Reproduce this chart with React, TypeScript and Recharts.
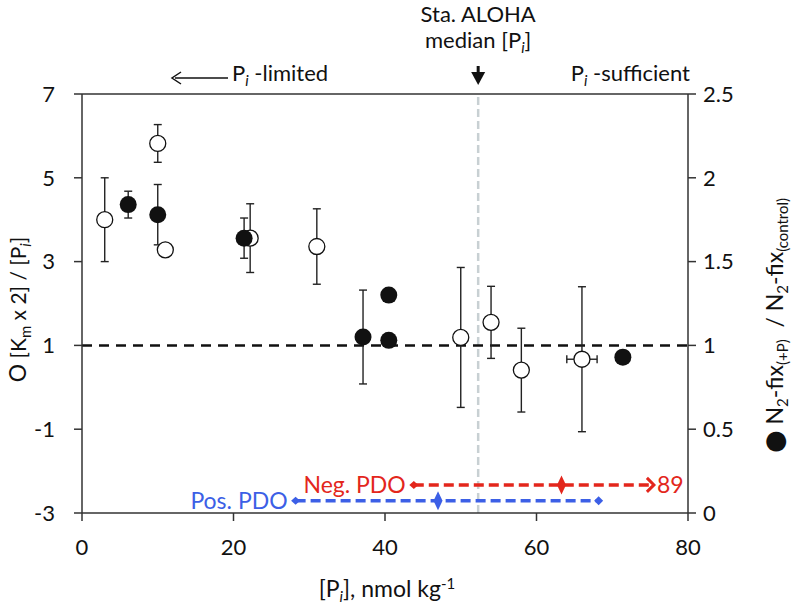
import React from 'react';
import { ScatterChart, Scatter, XAxis, YAxis, ErrorBar, ReferenceLine, ReferenceDot } from 'recharts';

// open circles: [Km x 2] / [Pi]  (left axis)
const openPi = [3, 10, 11, 22.2, 31, 50, 54, 58, 66];
const openRatio = [4.0, 5.82, 3.28, 3.56, 3.36, 1.19, 1.55, 0.41, 0.67];
const openRatioErr = [1.0, 0.45, 0, 0.82, 0.9, 1.67, 0.86, 1.0, 1.73];
const openPiErr = [0, 0, 0, 0, 0, 0, 0, 0, 2];

// filled circles: N2-fix(+P) / N2-fix(control)  (right axis)
const filledPi = [6.1, 10, 21.4, 37.1, 40.5, 40.5, 71.4];
const filledFix = [1.84, 1.78, 1.64, 1.05, 1.3, 1.03, 0.93];
const filledFixErr = [0.08, 0.18, 0.12, 0.28, 0, 0, 0];

const xTicks = [0, 20, 40, 60, 80];
const leftTicks = [-3, -1, 1, 3, 5, 7];
const rightTicks = [0, 0.5, 1, 1.5, 2, 2.5];

const alohaMedian = 52.3;
const threshold = 1;
// low, median, high of [Pi] during each PDO phase
const negPdo = [43.8, 63.3, 75.5];
const posPdo = [28.2, 47.0, 68.2];
const negPdoTop = '89';

const NEG_Y = -2.33;
const POS_Y = -2.71;
const RED = '#e3261c';
const BLUE = '#3c5fe6';
const FONT = 'Lato, "Open Sans", sans-serif';
const AXIS = '#333';

const openData = openPi.map((x, i) => ({ x, y: openRatio[i], ey: openRatioErr[i], ex: openPiErr[i] }));
const filledData = filledPi.map((x, i) => ({ x, y: filledFix[i], ey: filledFixErr[i] }));

const OpenDot = (p: any) => <circle cx={p.cx} cy={p.cy} r={8} fill="#fff" stroke="#111" strokeWidth={1.3} />;
const FilledDot = (p: any) => <circle cx={p.cx} cy={p.cy} r={8.5} fill="#111" />;

const diamond = (color: string, w: number, h: number) => (p: any) => (
  <path d={`M${p.cx - w / 2},${p.cy} L${p.cx},${p.cy - h / 2} L${p.cx + w / 2},${p.cy} L${p.cx},${p.cy + h / 2} Z`} fill={color} />
);

const EndLabel = (color: string, w: number, h: number, text: string, side: 'left' | 'right', chevron = false) => (p: any) => (
  <g>
    {chevron ? (
      <path d={`M${p.cx - 7},${p.cy - 7} L${p.cx},${p.cy} L${p.cx - 7},${p.cy + 7}`} fill="none" stroke={color} strokeWidth={3} />
    ) : (
      <path d={`M${p.cx - w / 2},${p.cy} L${p.cx},${p.cy - h / 2} L${p.cx + w / 2},${p.cy} L${p.cx},${p.cy + h / 2} Z`} fill={color} />
    )}
    <text
      x={side === 'left' ? p.cx - 8 : p.cx + 3}
      y={p.cy + 8}
      textAnchor={side === 'left' ? 'end' : 'start'}
      fill={color}
      fontSize={23}
      fontFamily={FONT}
    >
      {text}
    </text>
  </g>
);

const TopNotes = (props: any) => {
  const vb = props.viewBox || {};
  const x = vb.x;
  const top = Math.min(vb.y, vb.y + (vb.height || 0));
  return (
    <g fontFamily={FONT} fontSize={22} fill="#111">
      <text x={x} y={top - 72} textAnchor="middle">Sta. ALOHA</text>
      <text x={x} y={top - 46} textAnchor="middle">
        median [P<tspan fontSize={15} fontStyle="italic" dy={5}>i</tspan><tspan dy={-5}>]</tspan>
      </text>
      <rect x={x - 1.5} y={top - 28} width={3} height={6} fill="#111" />
      <path d={`M${x - 7},${top - 22} L${x + 7},${top - 22} L${x},${top - 9} Z`} fill="#111" />
      <line x1={175} y1={top - 16} x2={228} y2={top - 16} stroke="#111" strokeWidth={1.5} />
      <path d={`M${181},${top - 22} L${172},${top - 16} L${181},${top - 10}`} fill="none" stroke="#111" strokeWidth={1.5} />
      <text x={232} y={top - 13}>
        P<tspan fontSize={15} fontStyle="italic" dy={5}>i</tspan><tspan dy={-5}> -limited</tspan>
      </text>
      <text x={690} y={top - 13} textAnchor="end">
        P<tspan fontSize={15} fontStyle="italic" dy={5}>i</tspan><tspan dy={-5}> -sufficient</tspan>
      </text>
    </g>
  );
};

const LeftTitle = (props: any) => {
  const vb = props.viewBox || {};
  const cx = vb.x + 26;
  const cy = vb.y + vb.height / 2 + 6;
  return (
    <text x={cx} y={cy} transform={`rotate(-90 ${cx} ${cy})`} textAnchor="middle" fontFamily={FONT} fontSize={21} fill="#111">
      <tspan fontSize={23}>O</tspan> [K<tspan fontSize={15} dy={5}>m</tspan>
      <tspan dy={-5}> x 2] / [P</tspan>
      <tspan fontSize={15} fontStyle="italic" dy={5}>i</tspan>
      <tspan dy={-5}>]</tspan>
    </text>
  );
};

const RightTitle = (props: any) => {
  const vb = props.viewBox || {};
  const cx = vb.x + 95;
  const cy = vb.y + vb.height / 2 + 22;
  return (
    <text x={cx} y={cy} transform={`rotate(-90 ${cx} ${cy})`} textAnchor="middle" fontFamily={FONT} fontSize={23} fill="#111">
      <tspan fontFamily="DejaVu Sans" fontSize={26}>●</tspan> N<tspan fontSize={15} dy={5}>2</tspan>
      <tspan dy={-5}>-fix</tspan>
      <tspan fontSize={15} dy={5}>(+P)</tspan>
      <tspan dy={-5}>{'\u00a0\u00a0/ N'}</tspan>
      <tspan fontSize={15} dy={5}>2</tspan>
      <tspan dy={-5}>-fix</tspan>
      <tspan fontSize={15} dy={5}>(control)</tspan>
    </text>
  );
};

const BottomTitle = (props: any) => {
  const vb = props.viewBox || {};
  const cx = vb.x + vb.width / 2 + 2;
  return (
    <text x={cx} y={vb.y + 84} textAnchor="middle" fontFamily={FONT} fontSize={23} fill="#111">
      [P<tspan fontSize={15} fontStyle="italic" dy={5}>i</tspan>
      <tspan dy={-5}>], nmol kg</tspan>
      <tspan fontSize={15} dy={-8}>-1</tspan>
    </text>
  );
};

const tickStyle = { fill: '#111', fontSize: 22, fontFamily: FONT };

export default function App() {
  return (
    <div style={{ position: 'absolute', left: 0, top: 0, width: 796, height: 607, background: '#fff' }}>
      <ScatterChart width={796} height={607} margin={{ top: 94, right: 0, bottom: 0, left: 0 }}>
        <XAxis
          type="number"
          dataKey="x"
          domain={[0, 80]}
          ticks={xTicks}
          height={94}
          stroke={AXIS}
          strokeWidth={1.5}
          tickSize={8}
          tickMargin={18}
          tick={tickStyle}
          label={<BottomTitle />}
        />
        <YAxis
          yAxisId="left"
          type="number"
          dataKey="y"
          domain={[-3, 7]}
          ticks={leftTicks}
          width={82}
          stroke={AXIS}
          strokeWidth={1.5}
          tickSize={8}
          tickMargin={19}
          tick={tickStyle}
          label={<LeftTitle />}
        />
        <YAxis
          yAxisId="right"
          orientation="right"
          type="number"
          dataKey="y"
          domain={[0, 2.5]}
          ticks={rightTicks}
          width={108}
          stroke={AXIS}
          strokeWidth={1.5}
          tickSize={8}
          tickMargin={7}
          tick={tickStyle}
          tickFormatter={(v: number) => String(v)}
          label={<RightTitle />}
        />
        <ReferenceLine yAxisId="left" y={7} stroke={AXIS} strokeWidth={1.5} />
        <ReferenceLine
          yAxisId="left"
          x={alohaMedian}
          stroke="#c8d0d3"
          strokeWidth={2.5}
          strokeDasharray="8 4"
          label={<TopNotes />}
        />
        <ReferenceLine yAxisId="left" y={threshold} stroke="#111" strokeWidth={2.5} strokeDasharray="10 7" />

        <ReferenceLine
          yAxisId="left"
          segment={[{ x: negPdo[0], y: NEG_Y }, { x: negPdo[2], y: NEG_Y }]}
          stroke={RED}
          strokeWidth={3.5}
          strokeDasharray="10 5"
        />
        <ReferenceLine
          yAxisId="left"
          segment={[{ x: posPdo[0], y: POS_Y }, { x: posPdo[2], y: POS_Y }]}
          stroke={BLUE}
          strokeWidth={3.5}
          strokeDasharray="10 5"
        />
        <ReferenceDot yAxisId="left" x={negPdo[0]} y={NEG_Y} r={4} shape={EndLabel(RED, 9, 8, 'Neg. PDO', 'left')} />
        <ReferenceDot yAxisId="left" x={negPdo[1]} y={NEG_Y} r={4} shape={diamond(RED, 9, 19)} />
        <ReferenceDot yAxisId="left" x={negPdo[2]} y={NEG_Y} r={4} shape={EndLabel(RED, 9, 8, negPdoTop, 'right', true)} />
        <ReferenceDot yAxisId="left" x={posPdo[0]} y={POS_Y} r={4} shape={EndLabel(BLUE, 9, 8, 'Pos. PDO', 'left')} />
        <ReferenceDot yAxisId="left" x={posPdo[1]} y={POS_Y} r={4} shape={diamond(BLUE, 9, 19)} />
        <ReferenceDot yAxisId="left" x={posPdo[2]} y={POS_Y} r={4} shape={diamond(BLUE, 9, 9)} />

        <Scatter yAxisId="left" data={openData} shape={OpenDot} isAnimationActive={false}>
          <ErrorBar dataKey="ey" direction="y" width={4} stroke="#222" strokeWidth={1.4} />
          <ErrorBar dataKey="ex" direction="x" width={4} stroke="#222" strokeWidth={1.4} />
        </Scatter>
        <Scatter yAxisId="right" data={filledData} shape={FilledDot} isAnimationActive={false}>
          <ErrorBar dataKey="ey" direction="y" width={4} stroke="#222" strokeWidth={1.4} />
        </Scatter>
      </ScatterChart>
    </div>
  );
}
